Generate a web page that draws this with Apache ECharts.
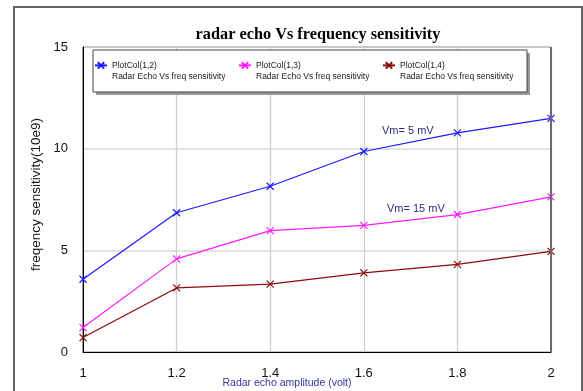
<!DOCTYPE html>
<html><head><meta charset="utf-8">
<script src="https://cdn.jsdelivr.net/npm/echarts@6/dist/echarts.min.js"></script>
<style>html,body{margin:0;padding:0;background:#fff}#c{width:583px;height:391px}</style>
</head><body><div id="c"></div>
<script>
var xValues = [1, 1.2, 1.4, 1.6, 1.8, 2];
var seriesNames = ['PlotCol(1,2)', 'PlotCol(1,3)', 'PlotCol(1,4)'];
var vm5 = [3.58, 6.85, 8.15, 9.86, 10.78, 11.49];
var vm15 = [1.2, 4.58, 5.97, 6.23, 6.76, 7.63];
var vm3 = [0.71, 3.15, 3.34, 3.89, 4.31, 4.95];
var yTicks = [0, 5, 10, 15];
var seriesColors = ['#1a1aff', '#ff1aff', '#8b0a0a'];
var legendSub = 'Radar Echo Vs freq sensitivity';
var annotations = ['Vm= 5 mV', 'Vm= 15 mV'];

var allData = [vm5, vm15, vm3];
var chart = echarts.init(document.getElementById('c'), null, {renderer: 'canvas'});
var xSym = 'path://M0,0L10,10M0,10L10,0';
var series = allData.map(function (vals, i) {
  return {
    name: seriesNames[i], type: 'line',
    data: vals.map(function (v, j) { return [xValues[j], v]; }),
    symbol: xSym, symbolSize: 7, showAllSymbol: true,
    lineStyle: {color: seriesColors[i], width: 1.2},
    itemStyle: {color: 'rgba(0,0,0,0)', borderColor: seriesColors[i], borderWidth: 1.2},
    emphasis: {disabled: true}, animation: false, z: 3
  };
});
var legendLefts = [94, 238, 382];
var legends = seriesNames.map(function (n, i) {
  return {
    data: [n], left: legendLefts[i], top: 48, padding: 0, orient: 'horizontal',
    itemWidth: 12, itemHeight: 8, z: 10,
    formatter: function (name) { return '\n' + name + '\n' + legendSub; },
    textStyle: {fontFamily: 'Liberation Sans, Arial', fontSize: 8.5, color: '#222', lineHeight: 11.6},
    selectedMode: false
  };
});
chart.setOption({
  animation: false,
  backgroundColor: '#fff',
  title: {
    text: 'radar echo Vs frequency sensitivity', left: 313, top: 22, textAlign: 'center',
    textStyle: {fontFamily: 'Liberation Serif, Times New Roman', fontWeight: 'bold', fontSize: 16.3, color: '#000'}
  },
  legend: legends,
  grid: {left: 83, right: 32, top: 47, bottom: 39, show: true, borderColor: '#222', borderWidth: 1, containLabel: false, outerBoundsMode: 'none'},
  xAxis: {
    type: 'value', min: 1, max: 2, interval: 0.2,
    name: 'Radar echo amplitude (volt)', nameLocation: 'middle', nameGap: 26, nameMoveOverlap: false,
    nameTextStyle: {fontFamily: 'Liberation Sans, Arial', fontSize: 10.5, color: '#3535a0', padding: [0, 60, 0, 0]},
    axisLine: {show: true, lineStyle: {color: '#000', width: 1}},
    axisTick: {show: false},
    axisLabel: {fontFamily: 'Liberation Sans, Arial', fontSize: 13, color: '#111', margin: 15,
      formatter: function (v) { return String(+v.toFixed(1)); }},
    splitLine: {show: true, lineStyle: {color: '#cfcfcf', width: 1.3}}
  },
  yAxis: {
    type: 'value', min: yTicks[0], max: yTicks[yTicks.length - 1], interval: 5,
    name: 'freqency sensitivity(10e9)', nameLocation: 'middle', nameGap: 40, nameRotate: 90, nameMoveOverlap: false,
    nameTextStyle: {fontFamily: 'Liberation Sans, Arial', fontSize: 13.5, color: '#111', padding: [0, 0, 0, 10]},
    axisLine: {show: true, lineStyle: {color: '#000', width: 1}},
    axisTick: {show: false},
    axisLabel: {fontFamily: 'Liberation Sans, Arial', fontSize: 13, color: '#111', margin: 15},
    splitLine: {show: true, lineStyle: {color: '#d9d9d9', width: 1.5}}
  },
  series: series,
  graphic: [
    {type: 'rect', shape: {x: 14, y: 7, width: 568, height: 400}, style: {fill: 'none', stroke: '#666', lineWidth: 2}, z: 1, silent: true},
    {type: 'rect', shape: {x: 96, y: 53, width: 434, height: 42}, style: {fill: '#9a9a9a'}, z: 5, silent: true},
    {type: 'rect', shape: {x: 93, y: 50, width: 434, height: 42}, style: {fill: '#fff', stroke: '#444', lineWidth: 1}, z: 6, silent: true},
    {type: 'line', shape: {x1: 551, y1: 47, x2: 551, y2: 352}, style: {stroke: '#6a6a6a', lineWidth: 2}, z: 4, silent: true},
    {type: 'text', left: 382, top: 125, style: {text: annotations[0], font: '11px "Liberation Sans", Arial', fill: '#2b2b85'}, z: 7, silent: true},
    {type: 'text', left: 387, top: 203, style: {text: annotations[1], font: '11px "Liberation Sans", Arial', fill: '#2b2b85'}, z: 7, silent: true}
  ]
});
</script></body></html>
